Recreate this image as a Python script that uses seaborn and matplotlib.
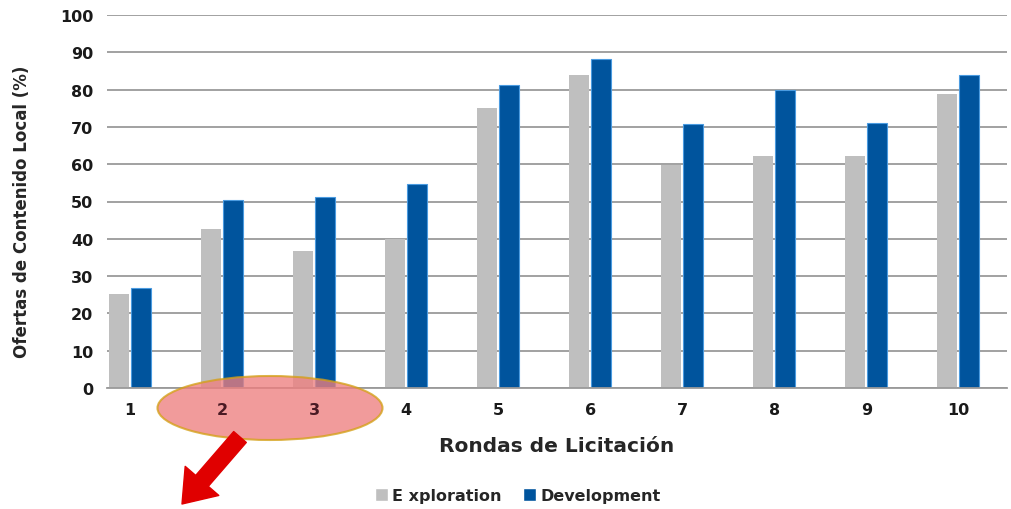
import pandas as pd
import seaborn as sns
import matplotlib.pyplot as plt
from matplotlib.patches import Ellipse

sns.set_style("white")
plt.rcParams["font.family"] = ["DejaVu Sans"]
plt.rcParams["font.weight"] = "bold"

# Data
rondas = ["1", "2", "3", "4", "5", "6", "7", "8", "9", "10"]
exploration = [25.2, 42.7, 36.7, 39.9, 75.0, 83.9, 59.9, 62.2, 62.2, 78.8]
development = [26.8, 50.3, 51.1, 54.6, 81.3, 88.1, 70.7, 79.8, 71.1, 83.9]
series_names = ["E xploration", "Development"]
colors = ["#bfbfbf", "#00549d"]

df = pd.DataFrame({
    "ronda": rondas * 2,
    "valor": exploration + development,
    "serie": [series_names[0]] * len(rondas) + [series_names[1]] * len(rondas),
})

fig = plt.figure(figsize=(10.11, 5.10), dpi=100)
ax = fig.add_axes([107 / 1011, 1 - 389 / 510, 900 / 1011, 373 / 510])

sns.barplot(data=df, x="ronda", y="valor", hue="serie", order=rondas,
            hue_order=series_names, palette=colors, width=0.48, gap=0.1,
            saturation=1, ax=ax, legend=True)

# light edge on the blue bars, bars above the grid
for bar in ax.containers[1]:
    bar.set_edgecolor("#4a9be0")
    bar.set_linewidth(0.8)
    bar.set_zorder(2)
for bar in ax.containers[0]:
    bar.set_linewidth(0)
    bar.set_zorder(2)

ax.set_ylim(0, 100)
ax.set_yticks(range(0, 101, 10))
ax.set_xlim(-0.25, 9.53)
ax.yaxis.grid(True, color="#9a9a9a", linewidth=1.3)
ax.yaxis.set_zorder(0.5)
for s in ["top", "right", "left"]:
    ax.spines[s].set_visible(False)
ax.spines["bottom"].set_color("#9a9a9a")
ax.spines["bottom"].set_linewidth(1.3)
ax.spines["bottom"].set_zorder(2.5)
ax.tick_params(axis="both", length=0, labelsize=11.5, colors="#1a1a1a")
ax.tick_params(axis="x", pad=10)
ax.tick_params(axis="y", pad=10)
for lab in ax.get_xticklabels() + ax.get_yticklabels():
    lab.set_fontweight("bold")

ax.set_ylabel("Ofertas de Contenido Local (%)", fontsize=12,
              fontweight="bold")
ax.yaxis.set_label_coords(-0.0844, 0.475)
ax.set_xlabel("Rondas de Licitación", fontsize=14.5, fontweight="bold",
              labelpad=14)

handles, labels = ax.get_legend_handles_labels()
ax.get_legend().remove()
fig.legend(handles, labels, loc="center", bbox_to_anchor=(0.512, 0.026),
           ncol=2, frameon=False, fontsize=11.5, handlelength=0.85,
           handleheight=0.85, handletextpad=0.25, columnspacing=1.3)

# red highlight over rounds 2 and 3 (tick labels stay on top)
ell = Ellipse((270 / 1011, 1 - 409 / 510), 225 / 1011, 64 / 510,
              transform=fig.transFigure, facecolor="#ee7f7f", alpha=0.78,
              edgecolor="#d4a017", linewidth=1.5, zorder=3, clip_on=False)
ax.add_patch(ell)
ax.xaxis.set_zorder(5)
for lab in ax.get_xticklabels()[1:3]:
    lab.set_color("#4a1a24")

ax.annotate("", xy=(182, 510 - 505), xycoords="figure pixels",
            xytext=(240, 510 - 438), textcoords="figure pixels",
            arrowprops=dict(arrowstyle="simple,head_width=1.6,head_length=1.1,tail_width=0.6",
                            color="#e00000", mutation_scale=20, shrinkA=0, shrinkB=0),
            annotation_clip=False)

fig.savefig("out.png", dpi=100)
